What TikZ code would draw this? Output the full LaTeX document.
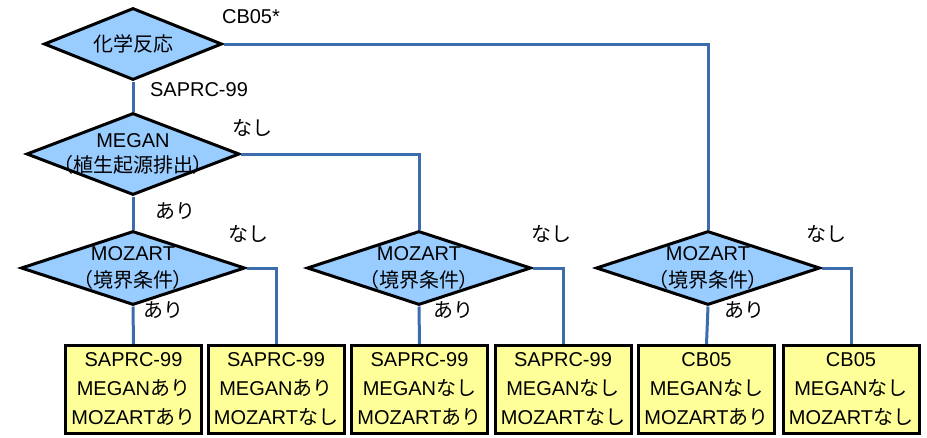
\documentclass[tikz,border=0pt]{standalone}
\usepackage{fontspec}
\setmainfont{Liberation Sans}
\newfontfamily\jp{Noto Sans CJK JP}
\newfontfamily\jpp[RawFeature=+palt]{Noto Sans CJK JP}
\newcommand{\ja}[1]{{\jp #1}}
\newcommand{\jap}[1]{{\jpp #1}}
\usepackage{tikz}
\usetikzlibrary{shapes.geometric}
\definecolor{diafill}{RGB}{153,204,255}
\definecolor{boxfill}{RGB}{255,255,153}
\definecolor{linkblue}{RGB}{60,108,172}
\tikzset{
  dia/.style={diamond, draw=black, fill=diafill, line width=3pt, inner sep=0pt},
  res/.style={rectangle, draw=black, fill=boxfill, line width=3pt, inner sep=0pt,
    minimum width=136pt, minimum height=88pt, align=center,
    font=\fontsize{20}{29}\selectfont},
  txt/.style={align=center, inner sep=0pt, font=\fontsize{20}{27}\selectfont},
  link/.style={draw=linkblue, line width=3pt},
}
\begin{document}
\begin{tikzpicture}[x=1pt,y=-1pt]
  \useasboundingbox (0,0) rectangle (927,437);
  % decision diamonds
  \node[dia, minimum width=178pt, minimum height=72pt] (chem) at (133,44) {};
  \node[dia, minimum width=213pt, minimum height=82pt] (megan) at (133,154) {};
  \node[dia, minimum width=224pt, minimum height=74pt] (moz1) at (133,268) {};
  \node[dia, minimum width=224pt, minimum height=74pt] (moz2) at (419,268) {};
  \node[dia, minimum width=224pt, minimum height=74pt] (moz3) at (708,268) {};
  % result boxes
  \node[res] (r1) at (133.5,389.5) {SAPRC-99\\MEGAN\ja{あり}\\MOZART\ja{あり}};
  \node[res] (r2) at (276,389.5) {SAPRC-99\\MEGAN\ja{あり}\\MOZART\ja{なし}};
  \node[res] (r3) at (419.5,389.5) {SAPRC-99\\MEGAN\ja{なし}\\MOZART\ja{あり}};
  \node[res] (r4) at (563,389.5) {SAPRC-99\\MEGAN\ja{なし}\\MOZART\ja{なし}};
  \node[res] (r5) at (706.5,389.5) {CB05\\MEGAN\ja{なし}\\MOZART\ja{あり}};
  \node[res] (r6) at (851,389.5) {CB05\\MEGAN\ja{なし}\\MOZART\ja{なし}};
  % connectors
  \draw[link] (chem.south) -- (megan.north);
  \draw[link] (chem.east) -| (moz3.north);
  \draw[link] (megan.south) -- (moz1.north);
  \draw[link] (megan.east) -| (moz2.north);
  \draw[link] (moz1.south) -- (r1.north);
  \draw[link] (moz1.east) -| (r2.north);
  \draw[link] (moz2.south) -- (r3.north);
  \draw[link] (moz2.east) -| (r4.north);
  \draw[link] (moz3.south) -- (r5.north);
  \draw[link] (moz3.east) -| (r6.north);
  % diamond texts
  \node[txt] (chemtxt) at (chem) {\ja{化学反応}};
  \node[txt, font=\fontsize{20}{25}\selectfont] (megantxt) at (megan) {MEGAN\\\jap{（植生起源排出）}};
  \node[txt] (moz1txt) at (moz1) {MOZART\\\jap{（境界条件）}};
  \node[txt] (moz2txt) at (moz2) {MOZART\\\jap{（境界条件）}};
  \node[txt] (moz3txt) at (moz3) {MOZART\\\jap{（境界条件）}};
  % branch labels
  \node[txt] (lcb) at (251,17) {CB05*};
  \node[txt] (lsap) at (199,90) {SAPRC-99};
  \node[txt] (lmn) at (252,128) {\ja{なし}};
  \node[txt] (lma) at (175,211) {\ja{あり}};
  \node[txt] (l1n) at (248,234) {\ja{なし}};
  \node[txt] (l1a) at (163,310) {\ja{あり}};
  \node[txt] (l2n) at (551,234) {\ja{なし}};
  \node[txt] (l2a) at (453,310) {\ja{あり}};
  \node[txt] (l3n) at (826,234) {\ja{なし}};
  \node[txt] (l3a) at (744,310) {\ja{あり}};
\end{tikzpicture}
\end{document}
